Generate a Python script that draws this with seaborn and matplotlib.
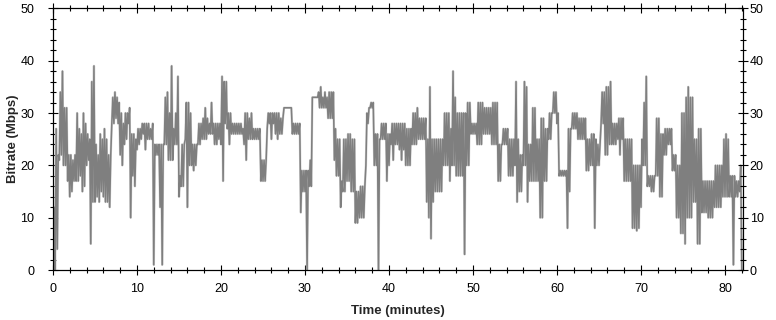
import numpy as np
import pandas as pd
import matplotlib
matplotlib.use("Agg")
import matplotlib.pyplot as plt
from matplotlib.ticker import MultipleLocator
import seaborn as sns

# per quarter-minute low / high bitrate (Mbps), 4 per row = 1 minute
band_lo = [
    0, 0, 4, 21,       # 0
    22, 20, 20, 17,    # 1
    14, 15, 17, 17,    # 2
    17, 18, 15, 16,    # 3
    20, 21, 5, 13,     # 4
    13, 14, 13, 15,    # 5
    14, 13, 13, 12,    # 6
    28, 28, 29, 28,    # 7
    22, 20, 24, 25,    # 8
    28, 10, 18, 16,    # 9
    23, 24, 25, 26,    # 10
    23, 25, 25, 25,    # 11
    1, 22, 22, 12,     # 12
    1, 24, 24, 21,     # 13
    21, 21, 24, 24,    # 14
    14, 16, 16, 25,    # 15
    12, 20, 20, 19,    # 16
    20, 24, 24, 25,    # 17
    25, 25, 26, 26,    # 18
    26, 24, 24, 25,    # 19
    24, 17, 28, 27,    # 20
    24, 26, 26, 26,    # 21
    26, 26, 26, 24,    # 22
    21, 25, 25, 25,    # 23
    25, 25, 25, 17,    # 24
    17, 17, 27, 28,    # 25
    25, 28, 26, 25,    # 26
    26, 26, 31, 31,    # 27
    31, 31, 26, 26,    # 28
    26, 26, 11, 15,    # 29
    15, 0, 16, 16,     # 30
    33, 33, 33, 31,    # 31
    31, 31, 31, 29,    # 32
    29, 29, 21, 18,    # 33
    18, 12, 15, 15,    # 34
    17, 17, 15, 15,    # 35
    9, 9, 10, 10,      # 36
    10, 20, 28, 31,    # 37
    31, 20, 20, 0,     # 38
    25, 25, 25, 17,    # 39
    20, 24, 21, 24,    # 40
    24, 23, 21, 23,    # 41
    20, 20, 20, 24,    # 42
    24, 24, 25, 25,    # 43
    25, 25, 13, 10,    # 44
    6, 13, 15, 15,     # 45
    15, 15, 20, 20,    # 46
    20, 17, 20, 20,    # 47
    18, 18, 18, 18,    # 48
    3, 20, 20, 26,     # 49
    26, 26, 24, 24,    # 50
    24, 26, 26, 26,    # 51
    26, 24, 24, 24,    # 52
    17, 17, 24, 24,    # 53
    24, 18, 18, 18,    # 54
    20, 13, 15, 15,    # 55
    20, 20, 13, 17,    # 56
    17, 17, 17, 17,    # 57
    10, 10, 17, 17,    # 58
    25, 25, 30, 30,    # 59
    28, 18, 18, 18,    # 60
    18, 8, 15, 27,     # 61
    27, 27, 25, 25,    # 62
    25, 25, 19, 19,    # 63
    20, 20, 8, 20,     # 64
    20, 28, 28, 22,    # 65
    22, 24, 24, 24,    # 66
    24, 25, 22, 25,    # 67
    17, 17, 17, 17,    # 68
    8, 8, 7.5, 8,      # 69
    12, 20, 20, 16,    # 70
    16, 15, 15, 18,    # 71
    18, 14, 14, 22,    # 72
    22, 24, 24, 19,    # 73
    19, 10, 10, 7,     # 74
    7, 5, 10, 10,      # 75
    10, 13, 13, 5,     # 76
    5, 11, 11, 11,     # 77
    10, 10, 10, 12,    # 78
    12, 12, 12, 14,    # 79
    14, 14, 14, 14,    # 80
    1, 14, 14, 15,     # 81
    0,                 # 82
]
band_hi = [
    12, 27, 22, 34,    # 0
    38, 31, 31, 22,    # 1
    22, 21, 22, 30,    # 2
    27, 26, 30, 28,    # 3
    26, 25, 36, 39,    # 4
    24, 22, 26, 25,    # 5
    27, 25, 22, 22,    # 6
    33, 34, 33, 32,    # 7
    30, 28, 30, 30,    # 8
    31, 26, 26, 25,    # 9
    27, 27, 28, 28,    # 10
    28, 28, 27, 28,    # 11
    24, 24, 24, 24,    # 12
    24, 33, 34, 30,    # 13
    39, 27, 30, 37,    # 14
    18, 24, 24, 32,    # 15
    32, 30, 24, 24,    # 16
    24, 28, 28, 29,    # 17
    31, 29, 28, 32,    # 18
    28, 28, 28, 28,    # 19
    37, 36, 36, 30,    # 20
    30, 28, 28, 28,    # 21
    28, 28, 27, 30,    # 22
    30, 29, 30, 27,    # 23
    27, 27, 27, 21,    # 24
    21, 21, 30, 30,    # 25
    30, 30, 30, 30,    # 26
    29, 29, 31, 31,    # 27
    31, 31, 28, 28,    # 28
    28, 28, 19, 19,    # 29
    19, 19, 21, 33,    # 30
    33, 33, 34, 35,    # 31
    33, 34, 33, 34,    # 32
    34, 34, 27, 25,    # 33
    25, 17, 25, 25,    # 34
    26, 26, 25, 25,    # 35
    15, 15, 16, 16,    # 36
    16, 30, 31, 32,    # 37
    32, 26, 26, 25,    # 38
    28, 28, 28, 26,    # 39
    26, 28, 28, 28,    # 40
    28, 28, 28, 28,    # 41
    27, 27, 27, 30,    # 42
    30, 31, 29, 29,    # 43
    29, 29, 25, 35,    # 44
    25, 25, 25, 25,    # 45
    25, 25, 30, 30,    # 46
    30, 27, 38, 33,    # 47
    30, 30, 30, 30,    # 48
    30, 32, 32, 28,    # 49
    28, 28, 32, 32,    # 50
    32, 31, 31, 31,    # 51
    31, 32, 32, 32,    # 52
    24, 24, 27, 27,    # 53
    27, 25, 25, 25,    # 54
    36, 25, 22, 22,    # 55
    36, 35, 24, 24,    # 56
    31, 31, 25, 25,    # 57
    29, 29, 27, 27,    # 58
    30, 30, 34, 34,    # 59
    30, 19, 19, 19,    # 60
    19, 27, 27, 30,    # 61
    30, 30, 29, 29,    # 62
    29, 29, 25, 25,    # 63
    26, 26, 25, 24,    # 64
    24, 34, 34, 35,    # 65
    35, 36, 28, 28,    # 66
    28, 29, 29, 29,    # 67
    25, 25, 25, 25,    # 68
    20, 20, 20, 20,    # 69
    25, 32, 37, 18,    # 70
    18, 18, 18, 29,    # 71
    29, 26, 26, 27,    # 72
    27, 27, 27, 22,    # 73
    22, 20, 20, 30,    # 74
    30, 33, 35, 33,    # 75
    33, 25, 25, 27,    # 76
    27, 17, 17, 17,    # 77
    17, 17, 17, 20,    # 78
    20, 20, 20, 25,    # 79
    26, 25, 18, 18,    # 80
    18, 17, 17, 20,    # 81
    0,                 # 82
]
step_min = 0.25

# interleave low and high samples so the trace sweeps through each band
minutes = np.column_stack([np.arange(len(band_lo)) * step_min,
                           np.arange(len(band_hi)) * step_min + step_min / 2]).ravel()
bitrate = np.column_stack([band_lo, band_hi]).ravel()
df = pd.DataFrame({"Time (minutes)": minutes, "Bitrate (Mbps)": bitrate})
df = df[df["Time (minutes)"] <= 82.0]

sns.set_style("ticks")
plt.rcParams["font.family"] = ["Liberation Sans", "DejaVu Sans"]

fig = plt.figure(figsize=(7.76, 3.2), dpi=100)
ax = fig.add_axes([0.0683, 0.156, 0.8887, 0.818])

ax.plot(df["Time (minutes)"], df["Bitrate (Mbps)"], color="#d4d4d4", lw=1.7)
sns.lineplot(data=df, x="Time (minutes)", y="Bitrate (Mbps)", ax=ax,
             color="#7f7f7f", lw=1.1, estimator=None)

ax.set_xlim(0, 82.1)
ax.set_ylim(0, 50)

# right-hand copy of the y axis (labels sit close to the spine there)
ax2 = ax.twinx()
ax2.set_ylim(0, 50)

for a in (ax, ax2):
    a.xaxis.set_major_locator(MultipleLocator(10))
    a.xaxis.set_minor_locator(MultipleLocator(2))
    a.yaxis.set_major_locator(MultipleLocator(10))
    a.yaxis.set_minor_locator(MultipleLocator(2))
    a.tick_params(which="both", direction="inout", colors="black",
                  labelsize=9, width=0.8)
    a.tick_params(which="major", length=7)
    a.tick_params(which="minor", length=4)
    for sp in a.spines.values():
        sp.set_color("black")
        sp.set_linewidth(0.8)

ax.tick_params(axis="x", which="both", top=True, pad=6)
ax.tick_params(axis="y", which="both", right=False, pad=10)
ax2.tick_params(axis="y", which="both", pad=1.5)

ax.set_xlabel("Time (minutes)", fontsize=9.5, fontweight="bold", labelpad=7)
ax.set_ylabel("Bitrate (Mbps)", fontsize=9.5, fontweight="bold", labelpad=1)

plt.savefig("out.png", dpi=100)
plt.close()
